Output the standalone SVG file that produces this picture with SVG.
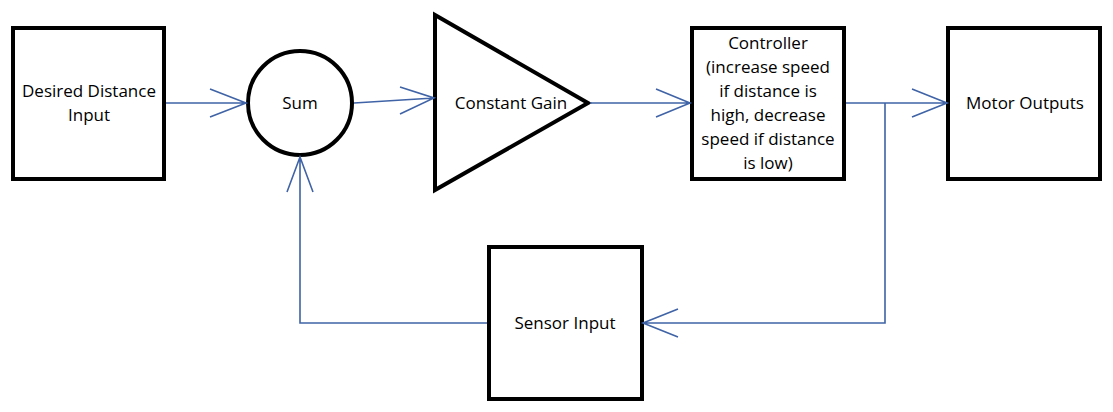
<svg xmlns="http://www.w3.org/2000/svg" width="1113" height="412" viewBox="0 0 1113 412">
<style>
.node{fill:#fff;stroke:#000;stroke-width:4}
.lbl{font-family:"Open Sans","Liberation Sans",sans-serif;font-size:17px;fill:#000;text-anchor:middle}
.con{fill:none;stroke:#3f63a6;stroke-width:1.6}
</style>
<rect width="1113" height="412" fill="#fff"/>
<g id="desired">
<rect class="node" x="13" y="28" width="151" height="151"/>
<text class="lbl" x="89" y="97">Desired Distance</text>
<text class="lbl" x="89" y="121">Input</text>
</g>
<g id="sum">
<circle class="node" cx="300" cy="103" r="52"/>
<text class="lbl" x="300" y="109">Sum</text>
</g>
<g id="gain">
<polygon class="node" points="435,15 435,190 588,103"/>
<text class="lbl" x="511" y="109">Constant Gain</text>
</g>
<g id="controller">
<rect class="node" x="692" y="28" width="152" height="151"/>
<text class="lbl" x="768" y="49">Controller</text>
<text class="lbl" x="768" y="73">(increase speed</text>
<text class="lbl" x="768" y="97">if distance is</text>
<text class="lbl" x="768" y="121">high, decrease</text>
<text class="lbl" x="768" y="145">speed if distance</text>
<text class="lbl" x="768" y="169">is low)</text>
</g>
<g id="motor">
<rect class="node" x="948" y="28" width="152" height="151"/>
<text class="lbl" x="1025" y="109">Motor Outputs</text>
</g>
<g id="sensor">
<rect class="node" x="489" y="247" width="153" height="152"/>
<text class="lbl" x="565" y="329">Sensor Input</text>
</g>
<g id="connectors">
<path class="con" d="M166,103 H246 M210,89 L246,103 L210,117"/>
<path class="con" d="M354,103 L434,98 M400,87 L434,98 L400,114"/>
<path class="con" d="M590,103 H690 M656,89 L690,103 L656,117"/>
<path class="con" d="M846,103 H947 M912,89 L947,103 L912,117"/>
<path class="con" d="M885,103 V323 H643 M678,309 L643,323 L678,337"/>
<path class="con" d="M487,323 H300 V157 M287,192 L300,157 L313,192"/>
</g>
</svg>
